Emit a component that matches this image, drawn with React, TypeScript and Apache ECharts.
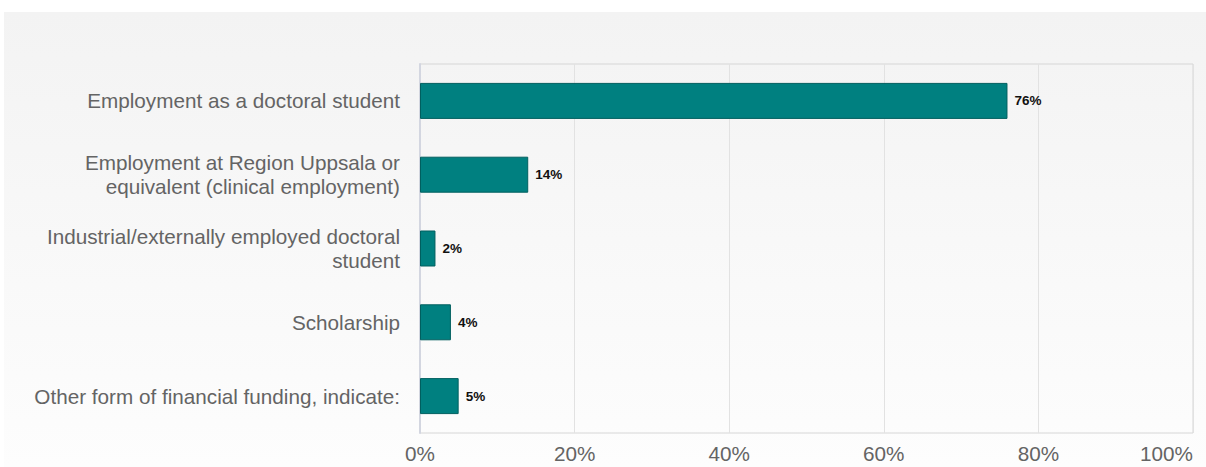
import React, { useEffect, useRef } from "react";
import * as echarts from "echarts";

const categories = [
  "Employment as a doctoral student",
  "Employment at Region Uppsala or\nequivalent (clinical employment)",
  "Industrial/externally employed doctoral\nstudent",
  "Scholarship",
  "Other form of financial funding, indicate:",
];
const values = [76, 14, 2, 4, 5];
const xTicks = [0, 20, 40, 60, 80, 100];

const FONT = "'Liberation Sans', Arial, sans-serif";

export default function App() {
  const ref = useRef<HTMLDivElement>(null);
  useEffect(() => {
    if (!ref.current) return;
    const chart = echarts.init(ref.current, null, { renderer: "svg" });
    chart.setOption({
      animation: false,
      graphic: [
        {
          type: "rect",
          z: -10,
          silent: true,
          shape: { x: 4, y: 12, width: 1202, height: 455 },
          style: {
            fill: new echarts.graphic.LinearGradient(0, 0, 0, 1, [
              { offset: 0, color: "#f3f3f3" },
              { offset: 1, color: "#fdfdfd" },
            ]),
          },
        },
      ],
      grid: {
        left: 420,
        right: 13,
        top: 64,
        bottom: 34,
        outerBoundsMode: "none",
        containLabel: false,
        show: true,
        borderColor: "#d6d6d6",
        borderWidth: 1,
        backgroundColor: "transparent",
      },
      xAxis: {
        type: "value",
        min: 0,
        max: 100,
        interval: 20,
        axisLine: { show: false },
        axisTick: { show: false },
        splitLine: { show: true, lineStyle: { color: "#e2e2e2", width: 1 } },
        axisLabel: {
          formatter: (v: number) => (xTicks.includes(v) ? v + "%" : ""),
          color: "#646464",
          fontSize: 20.7,
          fontFamily: FONT,
          margin: 10,
          alignMaxLabel: "right",
        },
      },
      yAxis: {
        type: "category",
        inverse: true,
        data: categories,
        axisLine: { show: true, lineStyle: { color: "#d3d6e0", width: 2 } },
        axisTick: { show: false },
        axisLabel: {
          color: "#646464",
          fontSize: 20.7,
          fontFamily: FONT,
          margin: 20,
          lineHeight: 24,
          align: "right",
        },
      },
      series: [
        {
          type: "bar",
          data: values,
          barWidth: 36,
          itemStyle: { color: "#008080", borderColor: "#005f5f", borderWidth: 1 },
          label: {
            show: true,
            position: "right",
            distance: 7,
            formatter: "{c}%",
            color: "#111",
            fontWeight: "bold",
            fontSize: 13.5,
            fontFamily: FONT,
          },
        },
      ],
    });
    return () => chart.dispose();
  }, []);
  return (
    <div
      ref={ref}
      style={{ position: "absolute", left: 0, top: 0, width: 1206, height: 467 }}
    />
  );
}
